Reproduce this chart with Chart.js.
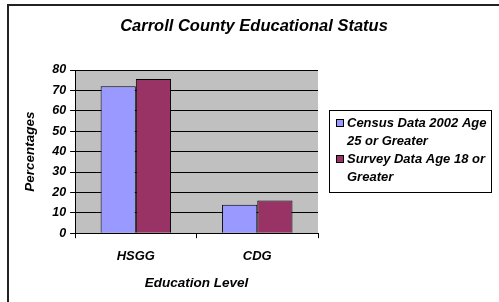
<!DOCTYPE html>
<html>
<head>
<meta charset="utf-8">
<script src="https://cdn.jsdelivr.net/npm/chart.js@4"></script>
<style>
    html, body { margin: 0; padding: 0; background: #fff; }
    #wrap { width: 499px; height: 302px; position: relative; }
</style>
</head>
<body>
<div id="wrap"><canvas id="eduChart"></canvas></div>
<script>
// Chart data
const categories = ['HSGG', 'CDG'];
const censusValues = [72, 14];
const surveyValues = [75.6, 16];
const censusLabel = ['Census Data 2002 Age', '25 or Greater'];
const surveyLabel = ['Survey Data Age 18 or', 'Greater'];
const yTicks = [0, 10, 20, 30, 40, 50, 60, 70, 80];
const chartTitle = 'Carroll County Educational Status';

const FONT = '"Liberation Sans", Arial, sans-serif';

// Gray plot background, outer frame, title and the boxed legend
const framePlugin = {
    id: 'framePlugin',
    beforeDraw(chart) {
        const { ctx, chartArea: a } = chart;
        ctx.save();
        ctx.fillStyle = '#fff';
        ctx.fillRect(0, 0, chart.width, chart.height);
        ctx.fillStyle = '#c0c0c0';
        ctx.fillRect(a.left, a.top, a.right - a.left, a.bottom - a.top);
        ctx.restore();
    },
    afterDraw(chart) {
        const { ctx } = chart;
        ctx.save();
        // outer frame (left + top only visible)
        ctx.strokeStyle = '#222';
        ctx.lineWidth = 2;
        ctx.beginPath();
        ctx.moveTo(8, chart.height);
        ctx.lineTo(8, 5);
        ctx.lineTo(chart.width, 5);
        ctx.stroke();

        // title, centred on the whole frame
        ctx.fillStyle = '#000';
        ctx.font = 'italic bold 16.5px ' + FONT;
        ctx.textAlign = 'center';
        ctx.textBaseline = 'middle';
        ctx.fillText(chartTitle, 254, 26);

        // legend box
        const bx = 329.5, by = 110.5, bw = 162, bh = 82;
        ctx.lineWidth = 1;
        ctx.strokeStyle = '#000';
        ctx.fillStyle = '#fff';
        ctx.fillRect(bx, by, bw, bh);
        ctx.strokeRect(bx, by, bw, bh);

        ctx.font = 'italic bold 13px ' + FONT;
        ctx.textBaseline = 'alphabetic';
        ctx.textAlign = 'left';
        let baseY = 127;
        chart.data.datasets.forEach((ds) => {
            ctx.fillStyle = ds.backgroundColor;
            ctx.fillRect(336, baseY - 7, 7, 7);
            ctx.strokeStyle = '#000';
            ctx.strokeRect(336.5, baseY - 7.5, 7, 7);
            ctx.fillStyle = '#000';
            ds.legendLines.forEach((line) => {
                ctx.fillText(line, 347, baseY);
                baseY += 18;
            });
        });
        ctx.restore();
    }
};

const ctx = document.getElementById('eduChart');
new Chart(ctx, {
    type: 'bar',
    data: {
        labels: categories,
        datasets: [{
            label: censusLabel.join(' '),
            legendLines: censusLabel,
            data: censusValues,
            backgroundColor: '#9999ff',
            borderColor: '#000',
            borderWidth: 1,
            categoryPercentage: 0.58,
            barPercentage: 1
        }, {
            label: surveyLabel.join(' '),
            legendLines: surveyLabel,
            data: surveyValues,
            backgroundColor: '#993366',
            borderColor: '#000',
            borderWidth: 1,
            categoryPercentage: 0.58,
            barPercentage: 1
        }]
    },
    options: {
        responsive: true,
        maintainAspectRatio: false,
        animation: false,
        layout: { padding: { left: 22, right: 181, top: 70, bottom: 11 } },
        plugins: {
            legend: { display: false },
            tooltip: { enabled: false },
            title: { display: false }
        },
        scales: {
            y: {
                min: 0,
                max: 80,
                afterBuildTicks(scale) {
                    scale.ticks = yTicks.map(v => ({ value: v }));
                },
                ticks: {
                    color: '#000',
                    padding: 4,
                    font: { family: FONT, size: 12.5, style: 'italic', weight: 'bold' }
                },
                grid: { color: '#000', tickLength: 5, lineWidth: 1 },
                border: { color: '#000', width: 1 },
                title: {
                    display: true,
                    text: 'Percentages',
                    color: '#000',
                    padding: { top: 0, bottom: 10 },
                    font: { family: FONT, size: 13.5, style: 'italic', weight: 'bold' }
                }
            },
            x: {
                ticks: {
                    color: '#000',
                    padding: 10,
                    font: { family: FONT, size: 13, style: 'italic', weight: 'bold' }
                },
                grid: { offset: true, drawOnChartArea: false, color: '#000', tickLength: 5 },
                border: { color: '#000', width: 1 },
                title: {
                    display: true,
                    text: 'Education Level',
                    color: '#000',
                    padding: { top: 1, bottom: 0 },
                    font: { family: FONT, size: 13.5, style: 'italic', weight: 'bold' }
                }
            }
        }
    },
    plugins: [framePlugin]
});
</script>
</body>
</html>
